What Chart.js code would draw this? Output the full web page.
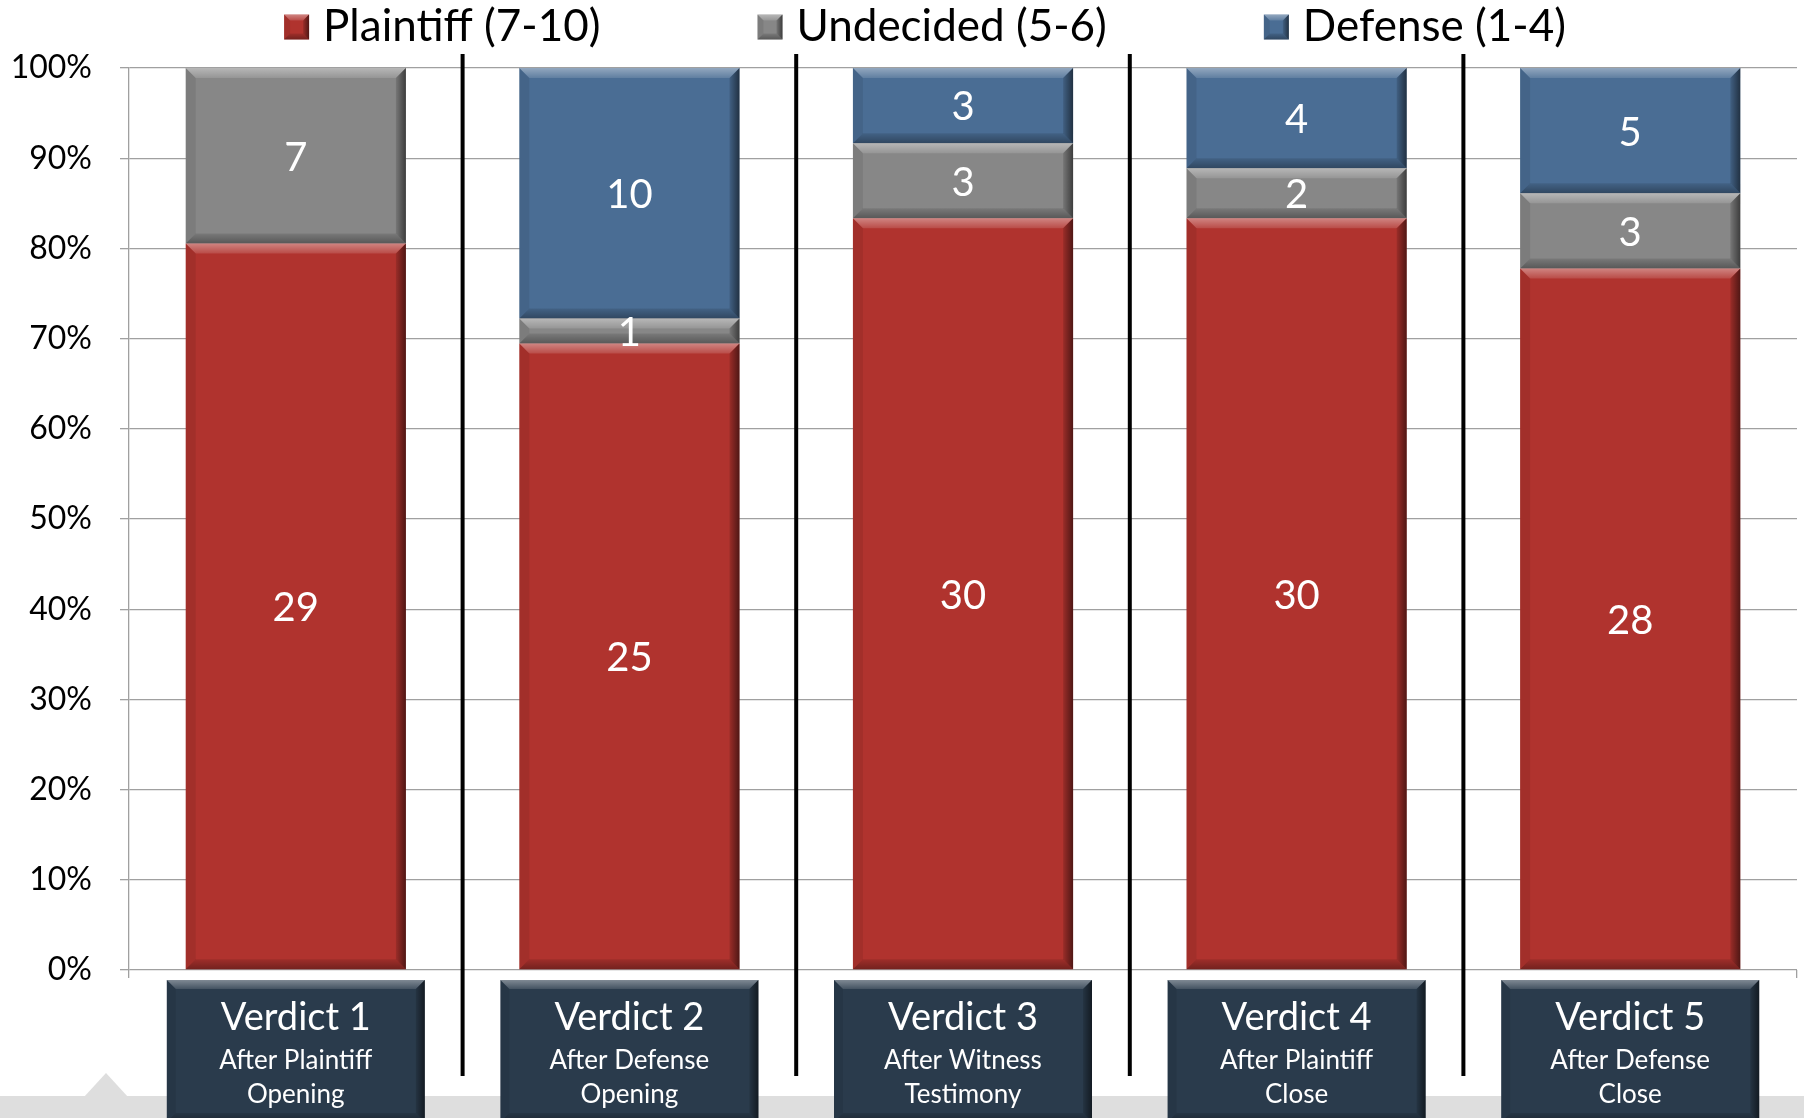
<!DOCTYPE html>
<html>
<head>
<meta charset="utf-8">
<script src="https://cdn.jsdelivr.net/npm/chart.js@4.4.0/dist/chart.umd.min.js"></script>
<style>
  html, body { margin: 0; padding: 0; background: #fff; }
  #wrap { width: 1804px; height: 1118px; }
</style>
</head>
<body>
<div id="wrap"><canvas id="verdictChart" width="1804" height="1118"></canvas></div>
<script>
'use strict';

// jurors per verdict round (counts, shown as labels)
const categories = ['Verdict 1', 'Verdict 2', 'Verdict 3', 'Verdict 4', 'Verdict 5'];
const subtitles = [
  ['After Plaintiff', 'Opening'],
  ['After Defense', 'Opening'],
  ['After Witness', 'Testimony'],
  ['After Plaintiff', 'Close'],
  ['After Defense', 'Close']
];
const plaintiff = [29, 25, 30, 30, 28];
const undecided = [7, 1, 3, 2, 3];
const defense = [0, 10, 3, 4, 5];
const seriesNames = ['Plaintiff (7-10)', 'Undecided (5-6)', 'Defense (1-4)'];
const seriesColors = ['#b0332e', '#878787', '#4a6d94'];

const FONT = 'Lato, "Open Sans", sans-serif';

// turn counts into shares of each column
const totals = plaintiff.map((v, i) => v + undecided[i] + defense[i]);
const toPct = arr => arr.map((v, i) => v / totals[i] * 100);
const counts = [plaintiff, undecided, defense];

function poly(ctx, pts) {
  ctx.beginPath();
  ctx.moveTo(pts[0][0], pts[0][1]);
  for (let i = 1; i < pts.length; i++) ctx.lineTo(pts[i][0], pts[i][1]);
  ctx.closePath();
  ctx.fill();
}

// fake the office "bevel" look
function bevel(ctx, l, t, r, b, size) {
  const s = Math.min(size, (b - t) / 2, (r - l) / 2);
  if (s <= 0) return;
  let g = ctx.createLinearGradient(0, t, 0, t + s);
  g.addColorStop(0, 'rgba(255,255,255,0.40)');
  g.addColorStop(1, 'rgba(255,255,255,0.12)');
  ctx.fillStyle = g;
  poly(ctx, [[l, t], [r, t], [r - s, t + s], [l + s, t + s]]);
  g = ctx.createLinearGradient(0, b - s, 0, b);
  g.addColorStop(0, 'rgba(0,0,0,0.10)');
  g.addColorStop(1, 'rgba(0,0,0,0.35)');
  ctx.fillStyle = g;
  poly(ctx, [[l, b], [r, b], [r - s, b - s], [l + s, b - s]]);
  g = ctx.createLinearGradient(r - s, 0, r, 0);
  g.addColorStop(0, 'rgba(0,0,0,0.12)');
  g.addColorStop(1, 'rgba(0,0,0,0.55)');
  ctx.fillStyle = g;
  poly(ctx, [[r, t], [r, b], [r - s, b - s], [r - s, t + s]]);
  ctx.fillStyle = 'rgba(0,0,0,0.08)';
  poly(ctx, [[l, t], [l, b], [l + s, b - s], [l + s, t + s]]);
}

const decorPlugin = {
  id: 'decor',
  beforeDraw(chart) {
    const ctx = chart.ctx;
    ctx.save();
    ctx.fillStyle = '#fff';
    ctx.fillRect(0, 0, chart.width, chart.height);
    // grey strip along the bottom with the little arrow
    ctx.fillStyle = '#dedede';
    ctx.fillRect(0, 1096, chart.width, chart.height - 1096);
    poly(ctx, [[84, 1097], [106, 1073], [128, 1097]]);
    ctx.restore();
  },
  afterDatasetsDraw(chart) {
    const ctx = chart.ctx;
    const xs = chart.scales.x;
    ctx.save();
    chart.data.datasets.forEach((ds, di) => {
      const meta = chart.getDatasetMeta(di);
      meta.data.forEach((bar, i) => {
        const p = bar.getProps(['x', 'y', 'base', 'width'], true);
        const top = Math.min(p.y, p.base), bot = Math.max(p.y, p.base);
        if (bot - top < 0.5) return;
        bevel(ctx, p.x - p.width / 2, top, p.x + p.width / 2, bot, 10);
      });
    });
    // value labels
    ctx.fillStyle = '#fff';
    ctx.font = '40px ' + FONT;
    ctx.textAlign = 'center';
    ctx.textBaseline = 'middle';
    chart.data.datasets.forEach((ds, di) => {
      const meta = chart.getDatasetMeta(di);
      meta.data.forEach((bar, i) => {
        const v = counts[di][i];
        if (!v) return;
        const p = bar.getProps(['x', 'y', 'base'], true);
        ctx.fillText(String(v), p.x, (p.y + p.base) / 2 + 2);
      });
    });
    // black separators between rounds
    ctx.strokeStyle = '#000';
    ctx.lineWidth = 4;
    for (let i = 0; i < categories.length - 1; i++) {
      const x = (xs.getPixelForValue(i) + xs.getPixelForValue(i + 1)) / 2;
      ctx.beginPath();
      ctx.moveTo(x, 54);
      ctx.lineTo(x, 1076);
      ctx.stroke();
    }
    // category label boxes
    categories.forEach((c, i) => {
      const cx = xs.getPixelForValue(i);
      const w = 258, l = cx - w / 2, t = 980, b = 1122;
      ctx.fillStyle = '#2a3b4c';
      ctx.fillRect(l, t, w, b - t);
      bevel(ctx, l, t, l + w, b, 9);
      ctx.fillStyle = '#fff';
      ctx.textAlign = 'center';
      ctx.textBaseline = 'middle';
      ctx.font = '38px ' + FONT;
      ctx.fillText(c, cx, 1018);
      ctx.font = '26px ' + FONT;
      ctx.fillText(subtitles[i][0], cx, 1061);
      ctx.fillText(subtitles[i][1], cx, 1095);
    });
    ctx.restore();
  },
  afterDraw(chart) {
    // legend across the top
    const ctx = chart.ctx;
    ctx.save();
    ctx.font = '44px ' + FONT;
    ctx.textBaseline = 'middle';
    ctx.textAlign = 'left';
    const box = 25, gapText = 14, gapItem = 157;
    const widths = seriesNames.map(n => box + gapText + ctx.measureText(n).width);
    const total = widths.reduce((a, b) => a + b, 0) + gapItem * (widths.length - 1);
    let x = 925 - total / 2;
    const cy = 27;
    seriesNames.forEach((n, i) => {
      ctx.fillStyle = seriesColors[i];
      ctx.fillRect(x, cy - box / 2, box, box);
      bevel(ctx, x, cy - box / 2, x + box, cy + box / 2, 6);
      ctx.fillStyle = '#000';
      ctx.fillText(n, x + box + gapText, cy);
      x += widths[i] + gapItem;
    });
    ctx.restore();
  }
};

new Chart('verdictChart', {
  type: 'bar',
  data: {
    labels: categories,
    datasets: [
      { label: seriesNames[0], data: toPct(plaintiff), backgroundColor: seriesColors[0] },
      { label: seriesNames[1], data: toPct(undecided), backgroundColor: seriesColors[1] },
      { label: seriesNames[2], data: toPct(defense), backgroundColor: seriesColors[2] }
    ]
  },
  options: {
    responsive: false,
    animation: false,
    devicePixelRatio: 1,
    layout: { padding: { top: 68, right: 7, bottom: 140, left: 0 } },
    datasets: { bar: { barPercentage: 0.66, categoryPercentage: 1 } },
    plugins: {
      legend: { display: false },
      tooltip: { enabled: false }
    },
    scales: {
      x: {
        stacked: true,
        border: { display: false },
        grid: { drawOnChartArea: false, tickLength: 8, color: '#a0a0a0', lineWidth: 1.3 },
        ticks: { display: false }
      },
      y: {
        stacked: true,
        min: 0,
        max: 100,
        afterFit(scale) { scale.width = 129; },
        border: { color: '#a0a0a0', width: 1.3 },
        grid: { color: '#a0a0a0', lineWidth: 1.3, tickLength: 9 },
        ticks: {
          stepSize: 10,
          padding: 28,
          color: '#000',
          font: { family: FONT, size: 32 },
          callback: v => v + '%'
        }
      }
    }
  },
  plugins: [decorPlugin]
});
</script>
</body>
</html>
